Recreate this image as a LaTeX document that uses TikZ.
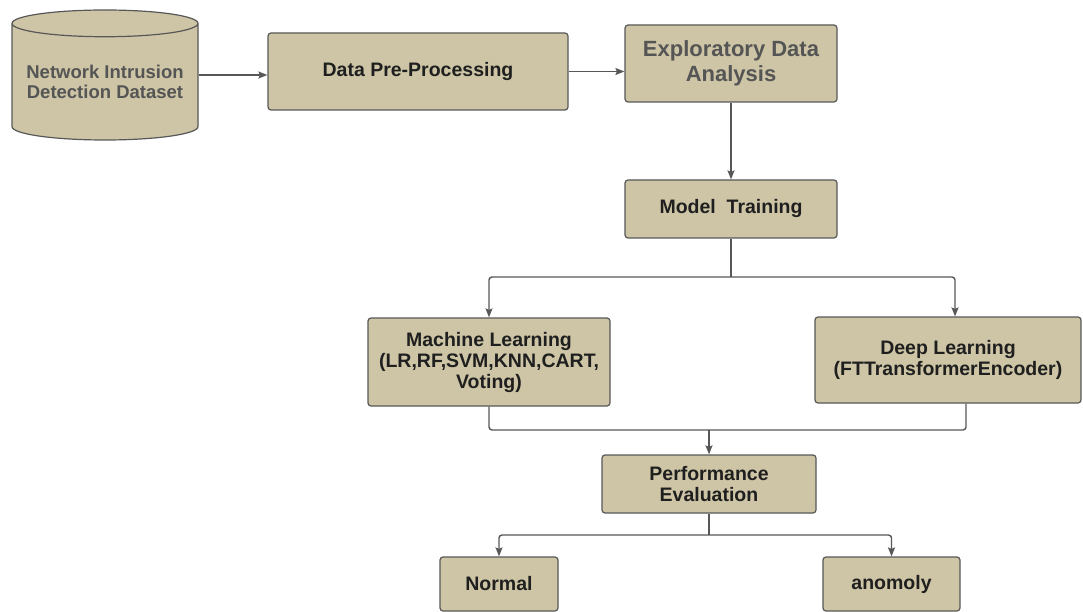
\documentclass[tikz,border=0pt]{standalone}
\usepackage{fontspec}
\setmainfont{Liberation Sans}
\usetikzlibrary{positioning,shapes.geometric,arrows.meta}
\definecolor{boxfill}{HTML}{CDC5A5}
\definecolor{boxline}{HTML}{575757}
\definecolor{softtext}{HTML}{555555}

\begin{document}
\begin{tikzpicture}[x=1pt,y=-1pt,
		  stage/.style={draw=boxline, fill=boxfill, line width=1.2pt, rounded corners=3pt,
		    align=center, inner sep=0pt, text=black!88,
		    font=\fontsize{19.5}{21}\selectfont\bfseries},
		  flow/.style={draw=boxline, line width=1.4pt, rounded corners=3pt,
		    -{Stealth[length=9pt,width=7pt,inset=1.5pt]}},
		  link/.style={draw=boxline, line width=1.4pt, rounded corners=3pt}]
		  \useasboundingbox (0,0) rectangle (1083,612);
		  \node[cylinder, shape border rotate=90, aspect=0.17, draw=boxline, fill=boxfill,
		    line width=1.2pt, minimum width=186pt, minimum height=130pt, inner sep=0pt,
		    align=center, text=softtext, font=\fontsize{18.5}{20}\selectfont\bfseries,
		    anchor=shape center]
		    (dataset) at (105,75) {Network Intrusion\\Detection Dataset};
		  \node[stage, minimum width=300pt, minimum height=77pt] (prep) at (418,71.5) {Data Pre-Processing};
		  \node[stage, minimum width=212pt, minimum height=77pt, text=softtext,
		    font=\fontsize{22}{25}\selectfont\bfseries] (eda) at (731,63.5) {Exploratory Data\\Analysis};
		  \node[stage, minimum width=212pt, minimum height=58pt] (train) at (731,209) {Model~~Training};
		  \node[stage, minimum width=242pt, minimum height=88pt] (ml) at (489,362)
		    {Machine Learning\\(LR,RF,SVM,KNN,CART,\\Voting)};
		  \node[stage, minimum width=266pt, minimum height=86pt] (dl) at (948,360)
		    {Deep Learning\\(FTTransformerEncoder)};
		  \node[stage, minimum width=214pt, minimum height=58pt] (perf) at (709,484) {Performance\\Evaluation};
		  \node[stage, minimum width=118pt, minimum height=54pt] (normal) at (499,584) {Normal};
		  \node[stage, minimum width=137pt, minimum height=54pt] (anomaly) at (891.5,584) {anomoly};
		  \coordinate (split) at (731,277);
		  \coordinate (merge) at (709,430);
		  \coordinate (outcome) at (709,535);
		  \draw[flow] (dataset.shape center -| dataset.east) -- (dataset.shape center -| prep.west);
		  \draw[flow] (prep.east) -- (prep.east -| eda.west);
		  \draw[flow] (eda.south) -- (train.north);
		  \draw[link] (train.south) -- (split);
		  \draw[flow] (split) -| (ml.north);
		  \draw[flow] (split) -| ([xshift=7pt]dl.north);
		  \draw[link] (ml.south) |- (merge);
		  \draw[link] ([xshift=18pt]dl.south) |- (merge);
		  \draw[flow] (merge) -- (perf.north);
		  \draw[link] (perf.south) -- (outcome);
		  \draw[flow] (outcome) -| (normal.north);
		  \draw[flow] (outcome) -| (anomaly.north);
		\end{tikzpicture}
\end{document}
